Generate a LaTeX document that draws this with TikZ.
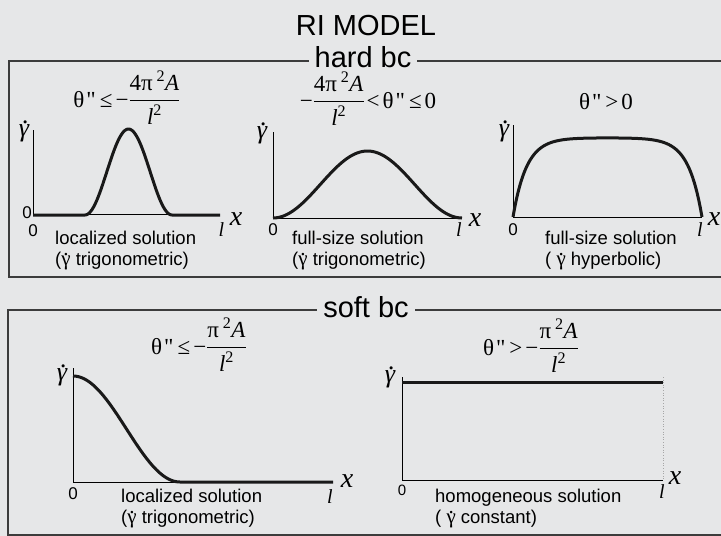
\documentclass[tikz,border=0pt]{standalone}
\usepackage{amsmath}
\usepackage{fontspec}
\setmainfont{Liberation Sans}
\newfontfamily\tms{Liberation Serif}
\usetikzlibrary{positioning}
\definecolor{panelbg}{RGB}{230,231,232}
\definecolor{frameline}{RGB}{60,60,60}

% gamma with a dot above (upright for captions, italic for axes)
\newcommand{\gdot}{{\tms\fontsize{21}{21}\selectfont\setbox0=\hbox{γ}\rlap{\hbox to\wd0{\hss\raisebox{.45em}{.}\hss}}\box0}}
\newcommand{\gdoti}{{\tms\itshape\setbox0=\hbox{γ}\rlap{\hbox to\wd0{\hss\kern.15em\raisebox{.5em}{.}\hss}}\box0}}

\begin{document}
\begin{tikzpicture}[
    x=1pt, y=-1pt,
    frame/.style={draw=frameline, line width=1.4pt},
    heading/.style={fill=panelbg, inner xsep=6pt, inner ysep=2pt, anchor=base, font=\fontsize{29}{34}\selectfont},
    formula/.style={anchor=base, inner sep=0pt, font=\fontsize{23}{26}\selectfont\tms},
    axis/.style={draw=black, line width=0.9pt},
    curve/.style={draw=black!90, line width=3pt, line join=round},
    caption/.style={anchor=base west, align=left, inner sep=0pt, font=\fontsize{18.5}{21}\selectfont},
    xlab/.style={inner sep=0pt, font=\fontsize{28}{30}\selectfont\tms\itshape},
    llab/.style={inner sep=0pt, font=\fontsize{20}{22}\selectfont\tms\itshape},
    glab/.style={inner sep=0pt, font=\fontsize{26}{28}\selectfont},
    zlab/.style={inner sep=0pt, font=\fontsize{17}{19}\selectfont}
]
\fill[panelbg] (0,0) rectangle (721,536);
\useasboundingbox (0,0) rectangle (721,536);

% frames
\draw[frame] (730,61) -| (9,277) -- (730,277);
\draw[frame] (730,310) -| (8,535) -- (730,535);

% headings
\node[anchor=base, font=\fontsize{29}{34}\selectfont] (title) at (366,35) {RI MODEL};
\node[heading] (hard) at (363,67) {hard bc};
\node[heading] (soft) at (366,317) {soft bc};

% conditions
\node[formula] (condA) at (127,107) {θ\kern2pt"\kern4pt≤\kern3pt−$\dfrac{\text{4π\,\textsuperscript{2}\textit{A}}}{\text{\textit{l}\textsuperscript{2}}}$};
\node[formula] (condB) at (368,108) {−$\dfrac{\text{4π\,\textsuperscript{2}\textit{A}}}{\text{\textit{l}\textsuperscript{2}}}$\kern2pt<\kern3ptθ\kern2pt"\kern4pt≤\kern3pt0};
\node[formula] (condC) at (606,109) {θ\kern2pt"\kern4pt>\kern3pt0};
\node[formula] (condD) at (199,354) {θ\kern2pt"\kern4pt≤\kern3pt−$\dfrac{\text{π\,\textsuperscript{2}\textit{A}}}{\text{\textit{l}\textsuperscript{2}}}$};
\node[formula] (condE) at (531,355) {θ\kern2pt"\kern4pt>\kern3pt−$\dfrac{\text{π\,\textsuperscript{2}\textit{A}}}{\text{\textit{l}\textsuperscript{2}}}$};

% hard bc: localized
\draw[axis] (33,130) |- (220,214);
\draw[curve] (33,215) -- (85,215) -- plot[domain=85:172, samples=60] (\x, {215-43*(1-cos((\x-85)/87*360))}) -- (220,215);
\node[glab] (gA) at (24,131) {\gdoti};
\node[zlab] (zA0) at (27,213) {0};
\node[zlab] (zA) at (33,231) {0};
\node[llab] (lA) at (221.5,230) {l};
\node[xlab] (xA) at (236,219) {x};
\node[caption] (capA) at (55,265) {localized solution\\(\gdot\ trigonometric)};

% hard bc: full-size, trigonometric
\draw[axis] (273,132) |- (462,218);
\draw[curve] plot[domain=273:462, samples=80] (\x, {218-67*pow(sin((\x-273)/189*180),2)});
\node[glab] (gB) at (262,133) {\gdoti};
\node[zlab] (zB) at (273,230) {0};
\node[llab] (lB) at (459,230) {l};
\node[xlab] (xB) at (475,220) {x};
\node[caption] (capB) at (292,265) {full-size solution\\(\gdot\ trigonometric)};

% hard bc: full-size, hyperbolic
\draw[axis] (513,125) |- (702,217);
\draw[curve] plot[domain=513:702, samples=120] (\x, {217-79.2*(1-cosh(14*((\x-513)/189-0.5))/cosh(7))});
\node[glab] (gC) at (504,131) {\gdoti};
\node[zlab] (zC) at (513,230) {0};
\node[llab] (lC) at (700,230) {l};
\node[xlab] (xC) at (714,219) {x};
\node[caption] (capC) at (545,265) {full-size solution\\( \gdot\ hyperbolic)};

% soft bc: localized
\draw[axis] (73,368) |- (333,482);
\draw[curve] plot[domain=73:180, samples=60] (\x, {482-53*(1+cos((\x-73)/107*180))}) -- (333,482);
\node[glab] (gD) at (62,375) {\gdoti};
\node[zlab] (zD) at (73,494) {0};
\node[llab] (lD) at (330,497) {l};
\node[xlab] (xD) at (347,481) {x};
\node[caption] (capD) at (121,523) {localized solution\\(\gdot\ trigonometric)};

% soft bc: homogeneous
\draw[axis] (402,377) |- (663,480);
\draw[black!35, dotted, line width=0.6pt] (663,377) -- (663,480);
\draw[curve] (402,382) -- (663,382);
\node[glab] (gE) at (390,377) {\gdoti};
\node[zlab, font=\fontsize{15}{17}\selectfont] (zE) at (402,490) {0};
\node[llab] (lE) at (662,492) {l};
\node[xlab] (xE) at (675,478) {x};
\node[caption] (capE) at (435,523) {homogeneous solution\\( \gdot\ constant)};
\end{tikzpicture}
\end{document}
